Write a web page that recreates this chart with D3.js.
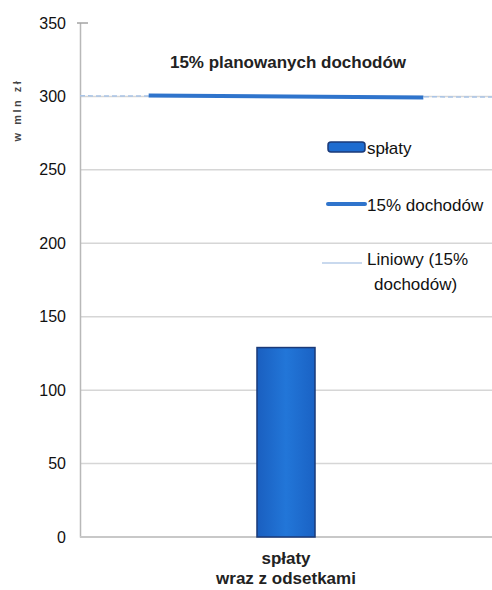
<!DOCTYPE html>
<html>
<head>
<meta charset="utf-8">
<script src="https://cdn.jsdelivr.net/npm/d3@7"></script>
<style>
  body { margin: 0; background: #fff; }
  svg { font-family: "Liberation Sans", Arial, sans-serif; }
</style>
</head>
<body>
<div id="chart"></div>
<script>
// data
const categories = ["spłaty wraz z odsetkami"]
const barValues = [129]
const lineValues = [300.7, 299.3]      // 15% dochodów, two points inside the category
const linePos = [1, 5]                 // position on a 0..6 sub-scale of the category
const trendValues = [300.4, 299.6]     // Liniowy (15% dochodów)
const trendPos = [0, 6]
const yTicks = [0, 50, 100, 150, 200, 250, 300, 350]

const width = 492, height = 590
const margin = { top: 23, right: 0, bottom: 53, left: 80 }

const svg = d3.select("#chart")
	.append("svg")
	.attr("width", width)
	.attr("height", height)

const y = d3.scaleLinear()
	.domain([0, 350])
	.range([height - margin.bottom, margin.top])

const x = d3.scaleBand()
	.domain(categories)
	.range([margin.left, width - margin.right])
	.paddingOuter(3.05)

const xSub = d3.scaleLinear()
	.domain([0, 6])
	.range([margin.left, width - margin.right])

// gridlines
svg.append("g")
	.selectAll("line")
	.data(yTicks.filter(d => d > 0 && d < 350))
	.enter()
	.append("line")
	.attr("x1", margin.left)
	.attr("x2", width - margin.right)
	.attr("y1", d => y(d))
	.attr("y2", d => y(d))
	.style("stroke", "#d6d6d6")
	.style("stroke-width", 1.5)

// y axis
const yAxis = svg.append("g")
	.attr("transform", `translate(${margin.left},0)`)
	.call(d3.axisLeft(y).tickValues(yTicks).tickSize(0).tickPadding(14))
yAxis.select(".domain").style("stroke", "#b8b8b8").style("stroke-width", 1.5)
yAxis.selectAll("text")
	.style("font-size", "16px")
	.style("fill", "#111")

// top tick
svg.append("line")
	.attr("x1", margin.left - 3).attr("x2", margin.left + 8)
	.attr("y1", y(350)).attr("y2", y(350))
	.style("stroke", "#777")

// bottom axis line
svg.append("line")
	.attr("x1", margin.left).attr("x2", width - margin.right)
	.attr("y1", y(0)).attr("y2", y(0))
	.style("stroke", "#c8c8c8")
	.style("stroke-width", 2)

// bar gradient
const defs = svg.append("defs")
const grad = defs.append("linearGradient")
	.attr("id", "barGrad")
	.attr("x1", "0%").attr("x2", "100%")
grad.append("stop").attr("offset", "0%").attr("stop-color", "#1a5fc0")
grad.append("stop").attr("offset", "50%").attr("stop-color", "#2276d8")
grad.append("stop").attr("offset", "100%").attr("stop-color", "#1a62c4")

svg.append("g")
	.selectAll("rect")
	.data(barValues)
	.enter()
	.append("rect")
	.attr("x", (d, i) => x(categories[i]))
	.attr("width", x.bandwidth())
	.attr("y", d => y(d))
	.attr("height", d => y(0) - y(d))
	.attr("fill", "url(#barGrad)")
	.style("stroke", "#1b3a78")
	.style("stroke-width", 1.5)

// trend line (Liniowy)
const lineGen = d3.line()
	.x(d => xSub(d[0]))
	.y(d => y(d[1]))

svg.append("path")
	.attr("d", lineGen(d3.zip(trendPos, trendValues)))
	.style("fill", "none")
	.style("stroke", "#a9c4e6")
	.style("stroke-width", 1.5)
	.style("stroke-dasharray", "5,3")

// 15% line
svg.append("path")
	.attr("d", lineGen(d3.zip(linePos, lineValues)))
	.style("fill", "none")
	.style("stroke", "#2f74cc")
	.style("stroke-width", 4)

// title
svg.append("text")
	.attr("x", 288)
	.attr("y", 68)
	.attr("text-anchor", "middle")
	.text("15% planowanych dochodów")
	.style("font-size", "17px")
	.style("font-weight", "bold")
	.style("fill", "#222")

// y axis label
svg.append("text")
	.attr("transform", "translate(21,110) rotate(-90)")
	.attr("text-anchor", "middle")
	.text("w mln zł")
	.style("font-size", "11px")
	.style("font-weight", "bold")
	.style("letter-spacing", "2.5px")
	.style("fill", "#444")

// category label
const catLabel = svg.append("text")
	.attr("text-anchor", "middle")
	.style("font-size", "17px")
	.style("font-weight", "bold")
	.style("fill", "#222")
catLabel.append("tspan")
	.attr("x", x(categories[0]) + x.bandwidth() / 2)
	.attr("y", 564)
	.text("spłaty")
catLabel.append("tspan")
	.attr("x", x(categories[0]) + x.bandwidth() / 2)
	.attr("y", 584)
	.text("wraz z odsetkami")

// legend
const lg = svg.append("g").attr("transform", "translate(328,0)")
lg.append("rect")
	.attr("x", 0).attr("y", 142)
	.attr("width", 37).attr("height", 10)
	.attr("rx", 3)
	.attr("fill", "#1e6cd0")
	.style("stroke", "#1b3a78")
	.style("stroke-width", 1.5)
lg.append("text").attr("x", 39).attr("y", 154).text("spłaty")
	.style("font-size", "17px").style("fill", "#111")

lg.append("line")
	.attr("x1", 0).attr("x2", 37).attr("y1", 204).attr("y2", 204)
	.style("stroke", "#2f74cc").style("stroke-width", 4).style("stroke-linecap", "round")
lg.append("text").attr("x", 39).attr("y", 211).text("15% dochodów")
	.style("font-size", "17px").style("fill", "#111")

lg.append("line")
	.attr("x1", -6).attr("x2", 34).attr("y1", 263).attr("y2", 263)
	.style("stroke", "#b7cde9").style("stroke-width", 1.5)
const lt = lg.append("text").style("font-size", "17px").style("fill", "#111")
lt.append("tspan").attr("x", 39).attr("y", 265).text("Liniowy (15%")
lt.append("tspan").attr("x", 46).attr("y", 290).text("dochodów)")
</script>
</body>
</html>
